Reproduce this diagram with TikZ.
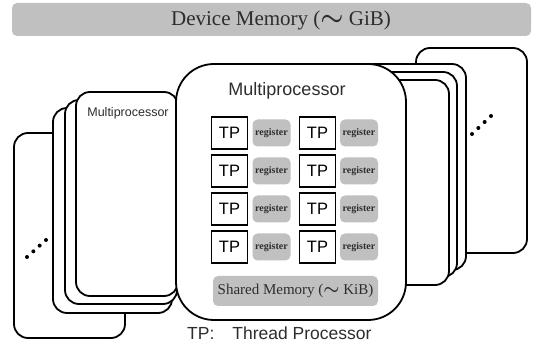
\documentclass[tikz,border=0pt]{standalone}
\usepackage{amsmath}
\usepackage{fontspec}
\setmainfont{Liberation Serif}
\newfontfamily\gothic{Liberation Sans}
\definecolor{memgray}{RGB}{192,192,192}
\definecolor{txtgray}{RGB}{45,45,45}
\newcommand{\bigtilde}{\scalebox{1.25}{$\boldsymbol{\sim}$}}
\begin{document}
\begin{tikzpicture}[x=1pt,y=-1pt,
  card/.style={draw, line width=1.8pt, fill=white, rounded corners=14pt, inner sep=0pt},
  maincard/.style={card, rounded corners=38pt},
  tpbox/.style={draw, line width=1.3pt, fill=white, minimum width=36pt, minimum height=32pt, inner sep=0pt,
    font=\gothic\fontsize{16.5}{18}\selectfont},
  regbox/.style={fill=memgray, rounded corners=5pt, minimum width=38pt, minimum height=27pt, inner sep=0pt,
    font=\bfseries\fontsize{10}{11}\selectfont, text=txtgray},
  membox/.style={fill=memgray, rounded corners=5pt, inner sep=0pt},
  dot/.style={fill=black}
]
\useasboundingbox (0,0) rectangle (538,344);

% device memory
\node[membox, minimum width=519pt, minimum height=33pt] (dev) at (271.5,19.5) {};
\node[text=txtgray, font=\fontsize{21}{24}\selectfont, inner sep=0pt] (devlabel) at (281,20) {Device Memory (\bigtilde\ GiB)};

% right stack
\node[card, minimum width=111pt, minimum height=205pt] (r0) at (471.5,150.5) {};
\node[card, minimum width=106pt, minimum height=206pt] (r1) at (413,167) {};
\node[card, minimum width=97pt, minimum height=205pt] (r2) at (408.5,174.5) {};
\node[card, minimum width=89pt, minimum height=205pt] (r3) at (404.5,182.5) {};

% left stack
\node[card, minimum width=111pt, minimum height=205pt] (l0) at (69.5,235.5) {};
\node[card, minimum width=119pt, minimum height=205pt] (l1) at (112.5,210.5) {};
\node[card, minimum width=112pt, minimum height=204pt] (l2) at (121,202) {};
\node[card, minimum width=102pt, minimum height=204pt] (l3) at (127,194) {};
\node[text=txtgray, font=\gothic\fontsize{12.5}{14}\selectfont, inner sep=0pt] (l3label) at (128,113) {Multiprocessor};

% dots
\foreach \i in {0,...,3}{
  \fill[dot] ({27+\i*6.33},{257-\i*5.67}) circle (2pt);
  \fill[dot] ({472+\i*6.33},{134-\i*6}) circle (2pt);
}

% main multiprocessor
\node[maincard, minimum width=230pt, minimum height=256pt] (main) at (291,192) {};
\node[text=txtgray, font=\gothic\fontsize{18}{20}\selectfont, inner sep=0pt] (mainlabel) at (287,91) {Multiprocessor};

\foreach \r/\y in {1/133,2/171,3/209,4/247}{
  \node[tpbox] (tpa\r) at (229.5,\y) {TP};
  \node[regbox] (rega\r) at (271.5,\y) {register};
  \node[tpbox] (tpb\r) at (317.5,\y) {TP};
  \node[regbox] (regb\r) at (359,\y) {register};
}
\node[membox, minimum width=165pt, minimum height=30pt, text=txtgray, font=\fontsize{15}{17}\selectfont] (shared) at (295.5,291) {Shared Memory (\bigtilde\ KiB)};

% caption
\node[anchor=west, text=txtgray, font=\gothic\fontsize{17.5}{20}\selectfont, inner sep=0pt] (caption) at (187,333) {TP:\hspace{18pt}Thread Processor};
\end{tikzpicture}
\end{document}
